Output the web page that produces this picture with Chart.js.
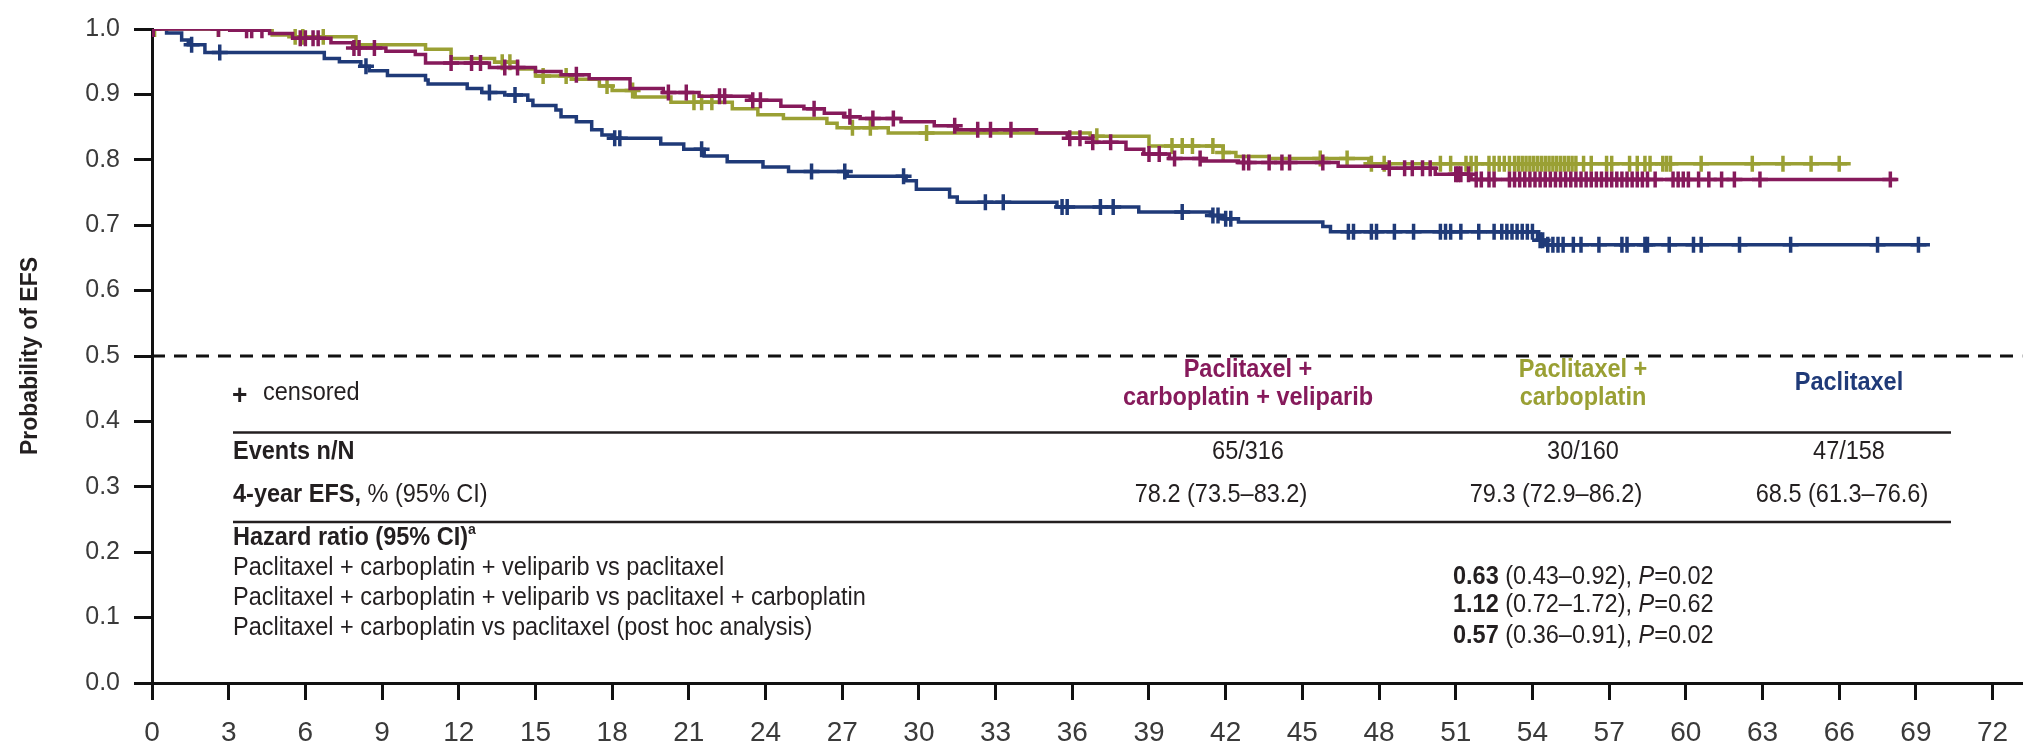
<!DOCTYPE html>
<html>
<head>
<meta charset="utf-8">
<script src="https://cdn.jsdelivr.net/npm/chart.js@4.4.1/dist/chart.umd.min.js"></script>
<style>
  html, body { margin: 0; padding: 0; background: #fff; }
  canvas { display: block; }
</style>
</head>
<body>
<canvas id="km" width="2034" height="750"></canvas>
<script>
// ---- data (months, probability of EFS) ----
const xTicks = [0, 3, 6, 9, 12, 15, 18, 21, 24, 27, 30, 33, 36, 39, 42, 45, 48, 51, 54, 57, 60, 63, 66, 69, 72];
const yTicks = [0, 0.1, 0.2, 0.3, 0.4, 0.5, 0.6, 0.7, 0.8, 0.9, 1.0];

// paclitaxel + carboplatin + veliparib
const pcvTimes = [0, 3.04, 4.6, 5.5, 7.0, 7.85, 9.15, 10.3, 10.7, 13.2, 15.0, 16.0, 17.1, 18.7, 20.0, 21.4, 23.4, 24.6, 25.5, 26.3, 27.1, 27.7, 29.3, 30.6, 31.5, 34.6, 35.8, 36.8, 38.1, 38.8, 39.8, 41.1, 42.5, 46.4, 48.4, 50.2, 51.6];
const pcvSurv = [1.0, 0.998, 0.993, 0.986, 0.979, 0.971, 0.966, 0.961, 0.948, 0.941, 0.935, 0.930, 0.924, 0.909, 0.903, 0.897, 0.891, 0.882, 0.878, 0.871, 0.866, 0.863, 0.858, 0.852, 0.846, 0.841, 0.833, 0.827, 0.816, 0.809, 0.802, 0.798, 0.796, 0.790, 0.787, 0.778, 0.770];
const pcvEnd = 68.25;
const pcvCensor = [0.05, 2.6, 3.7, 3.9, 4.3, 5.8, 6.0, 6.3, 6.5, 7.9, 8.1, 8.7, 11.7, 12.5, 12.85, 13.8, 14.3, 16.6, 20.2, 20.9, 22.2, 22.4, 23.5, 23.8, 25.9, 27.3, 28.2, 29.0, 31.4, 32.3, 32.8, 33.6, 35.9, 36.3, 36.8, 37.5, 39.0, 39.4, 40.0, 41.0, 42.7, 42.9, 43.7, 44.2, 44.5, 45.8, 48.4, 49.0, 49.3, 49.7, 50.0, 51.0, 51.1, 51.2, 51.5, 51.8, 52.0, 52.3, 52.5, 53.1, 53.3, 53.5, 53.7, 53.9, 54.1, 54.3, 54.5, 54.7, 54.9, 55.1, 55.3, 55.5, 55.7, 55.9, 56.1, 56.3, 56.5, 56.7, 56.9, 57.1, 57.3, 57.5, 57.7, 57.9, 58.1, 58.3, 58.5, 58.8, 59.5, 59.7, 59.9, 60.1, 60.5, 60.9, 61.4, 61.9, 62.9, 68.0];

// paclitaxel + carboplatin
const pcTimes = [0, 3.04, 4.7, 5.5, 7.98, 10.7, 11.7, 13.4, 14.3, 15.0, 16.4, 17.5, 18.0, 18.9, 20.3, 22.7, 23.7, 24.7, 26.4, 26.8, 28.8, 36.7, 39.0, 41.9, 42.4, 43.7, 47.6];
const pcSurv = [1.0, 0.998, 0.991, 0.988, 0.976, 0.969, 0.955, 0.949, 0.939, 0.928, 0.923, 0.913, 0.906, 0.896, 0.888, 0.878, 0.869, 0.863, 0.856, 0.849, 0.841, 0.836, 0.821, 0.811, 0.805, 0.802, 0.794];
const pcEnd = 66.45;
const pcCensor = [0.1, 2.6, 5.6, 5.9, 6.7, 13.7, 14.0, 15.3, 16.2, 17.8, 18.8, 21.2, 21.5, 21.9, 27.4, 28.1, 30.3, 36.96, 39.9, 40.3, 40.7, 41.5, 41.9, 45.7, 46.75, 47.7, 48.2, 50.4, 50.8, 51.4, 51.6, 51.8, 52.3, 52.5, 52.7, 52.9, 53.1, 53.3, 53.45, 53.6, 53.75, 53.9, 54.05, 54.2, 54.35, 54.5, 54.65, 54.8, 54.95, 55.1, 55.25, 55.4, 55.55, 55.7, 56.0, 56.3, 56.9, 57.1, 57.8, 58.1, 58.4, 58.6, 59.1, 59.25, 59.4, 60.6, 62.6, 63.8, 64.9, 66.0];

// paclitaxel
const pTimes = [0, 0.57, 1.16, 1.42, 2.07, 6.74, 7.33, 8.17, 8.5, 9.21, 10.7, 10.8, 12.33, 12.9, 13.8, 14.7, 14.9, 15.8, 16.0, 16.6, 17.2, 17.6, 18.0, 19.9, 20.8, 21.6, 22.5, 23.9, 24.9, 27.2, 29.5, 29.9, 31.2, 31.5, 35.4, 38.6, 41.4, 41.9, 42.5, 45.8, 46.1, 54.2, 54.5];
const pSurv = [1.0, 0.994, 0.983, 0.976, 0.964, 0.955, 0.950, 0.943, 0.936, 0.929, 0.922, 0.916, 0.909, 0.903, 0.899, 0.891, 0.883, 0.876, 0.866, 0.858, 0.846, 0.838, 0.833, 0.824, 0.816, 0.806, 0.797, 0.789, 0.782, 0.775, 0.768, 0.755, 0.743, 0.735, 0.728, 0.720, 0.715, 0.710, 0.705, 0.698, 0.690, 0.677, 0.670];
const pEnd = 69.55;
const pCensor = [1.55, 2.65, 8.37, 13.2, 14.2, 18.1, 18.3, 21.5, 25.8, 27.1, 29.4, 32.6, 33.3, 35.6, 35.8, 37.1, 37.6, 40.3, 41.5, 41.7, 42.0, 42.2, 46.8, 47.0, 47.7, 47.9, 48.6, 49.35, 50.4, 50.6, 50.8, 51.2, 51.9, 52.5, 52.8, 53.0, 53.2, 53.4, 53.6, 53.8, 54.0, 54.3, 54.4, 54.6, 54.8, 55.0, 55.2, 55.6, 55.9, 56.6, 57.5, 57.7, 58.4, 58.5, 59.35, 60.3, 60.6, 62.1, 64.1, 67.5, 69.1];

const armNames = [['Paclitaxel +', 'carboplatin + veliparib'], ['Paclitaxel +', 'carboplatin'], ['Paclitaxel']];
const armColors = ['#861a5b', '#9aa034', '#1f3a78'];
const eventsN = ['65/316', '30/160', '47/158'];
const efs4 = ['78.2 (73.5\u201383.2)', '79.3 (72.9\u201386.2)', '68.5 (61.3\u201376.6)'];
const hrLabels = [
  'Paclitaxel + carboplatin + veliparib vs paclitaxel',
  'Paclitaxel + carboplatin + veliparib vs paclitaxel + carboplatin',
  'Paclitaxel + carboplatin vs paclitaxel (post hoc analysis)'
];
const hrValues = ['0.63', '1.12', '0.57'];
const hrCI = ['(0.43\u20130.92)', '(0.72\u20131.72)', '(0.36\u20130.91)'];
const hrP = ['0.02', '0.62', '0.02'];

const X_MAX = 73.17;

function survAt(times, surv, t) {
  let s = surv[0];
  for (let i = 0; i < times.length; i++) {
    if (times[i] <= t) s = surv[i];
  }
  return s;
}

function curve(times, surv, end) {
  const pts = times.map((t, i) => ({ x: t, y: surv[i] }));
  pts.push({ x: end, y: surv[surv.length - 1] });
  return pts;
}

function marks(times, surv, cens) {
  return cens.map(t => ({ x: t, y: survAt(times, surv, t) }));
}

function lineSet(data, color) {
  return { data, borderColor: color, borderWidth: 3.5, stepped: 'before', pointRadius: 0, fill: false };
}
function censorSet(data, color) {
  return { data, showLine: false, borderColor: color, backgroundColor: color, pointStyle: 'cross', pointRadius: 8, pointBorderWidth: 3.5, pointHoverRadius: 8 };
}

const SANS = "'Liberation Sans', Arial, Helvetica, sans-serif";
const TEXT = '#231f20';
const SX = 0.94; // the source lettering is slightly condensed

// draw a line of mixed-style text runs
function runs(ctx, parts, x, y, align) {
  let total = 0;
  parts.forEach(p => {
    ctx.font = (p.style || '') + ' ' + (p.weight || 'normal') + ' ' + (p.size || 25) + 'px ' + SANS;
    p.w = ctx.measureText(p.text).width;
    total += p.w;
  });
  let x0 = 0;
  if (align === 'center') x0 = -total / 2;
  ctx.save();
  ctx.translate(x, y);
  ctx.scale(SX, 1);
  parts.forEach(p => {
    ctx.font = (p.style || '') + ' ' + (p.weight || 'normal') + ' ' + (p.size || 25) + 'px ' + SANS;
    ctx.fillStyle = p.color || TEXT;
    ctx.fillText(p.text, x0, p.dy || 0);
    x0 += p.w;
  });
  ctx.restore();
}

const tablePlugin = {
  id: 'efsTable',
  afterDraw(chart) {
    const ctx = chart.ctx;
    ctx.save();
    ctx.textBaseline = 'middle';
    ctx.textAlign = 'left';

    runs(ctx, [{ text: '+', weight: 'bold', size: 28 }], 232, 396, 'left');
    runs(ctx, [{ text: 'censored' }], 263, 393, 'left');

    const colX = [1248, 1583, 1849];
    runs(ctx, [{ text: armNames[0][0], weight: 'bold', color: armColors[0] }], colX[0], 370, 'center');
    runs(ctx, [{ text: armNames[0][1], weight: 'bold', color: armColors[0] }], colX[0], 398, 'center');
    runs(ctx, [{ text: armNames[1][0], weight: 'bold', color: armColors[1] }], colX[1], 370, 'center');
    runs(ctx, [{ text: armNames[1][1], weight: 'bold', color: armColors[1] }], colX[1], 398, 'center');
    runs(ctx, [{ text: armNames[2][0], weight: 'bold', color: armColors[2] }], colX[2], 383, 'center');

    ctx.strokeStyle = '#231f20';
    ctx.lineWidth = 2.5;
    [432.5, 522].forEach(y => {
      ctx.beginPath();
      ctx.moveTo(233, y);
      ctx.lineTo(1951, y);
      ctx.stroke();
    });

    runs(ctx, [{ text: 'Events n/N', weight: 'bold' }], 233, 452, 'left');
    runs(ctx, [{ text: '4-year EFS,', weight: 'bold' }, { text: ' % (95% CI)' }], 233, 495, 'left');
    const efsX = [1221, 1556, 1842];
    eventsN.forEach((t, i) => runs(ctx, [{ text: t }], colX[i], 452, 'center'));
    efs4.forEach((t, i) => runs(ctx, [{ text: t }], efsX[i], 495, 'center'));

    runs(ctx, [{ text: 'Hazard ratio (95% CI)', weight: 'bold' }, { text: 'a', weight: 'bold', size: 15, dy: -8 }], 233, 538, 'left');
    const rowY = [568, 598, 628];
    const valY = [577, 605, 636];
    hrLabels.forEach((t, i) => runs(ctx, [{ text: t }], 233, rowY[i], 'left'));
    hrValues.forEach((v, i) => runs(ctx, [
      { text: v, weight: 'bold' },
      { text: ' ' + hrCI[i] + ', ' },
      { text: 'P', style: 'italic' },
      { text: '=' + hrP[i] }
    ], 1453, valY[i], 'left'));

    ctx.restore();
  }
};

const ctx = document.getElementById('km').getContext('2d');
new Chart(ctx, {
  type: 'line',
  data: {
    datasets: [
      lineSet(curve(pcvTimes, pcvSurv, pcvEnd), armColors[0]),
      censorSet(marks(pcvTimes, pcvSurv, pcvCensor), armColors[0]),
      lineSet(curve(pcTimes, pcSurv, pcEnd), armColors[1]),
      censorSet(marks(pcTimes, pcSurv, pcCensor), armColors[1]),
      lineSet(curve(pTimes, pSurv, pEnd), armColors[2]),
      censorSet(marks(pTimes, pSurv, pCensor), armColors[2]),
      {
        data: [{ x: 0, y: 0.5 }, { x: X_MAX, y: 0.5 }],
        borderColor: '#111', borderWidth: 3, borderDash: [13, 9], pointRadius: 0, fill: false
      }
    ]
  },
  options: {
    responsive: false,
    animation: false,
    events: [],
    layout: { padding: { top: 19, right: 4, left: 0, bottom: 0 } },
    plugins: { legend: { display: false }, tooltip: { enabled: false } },
    scales: {
      x: {
        type: 'linear',
        min: 0,
        max: X_MAX,
        afterBuildTicks: s => { s.ticks = xTicks.map(v => ({ value: v })); },
        afterFit: s => { s.height = 67; },
        grid: { drawOnChartArea: false, tickLength: 17, tickWidth: 3, tickColor: '#111' },
        border: { color: '#111', width: 3 },
        ticks: {
          autoSkip: false, maxRotation: 0, padding: 16, color: '#3a3a3a',
          font: { family: SANS, size: 28 },
          callback: v => String(v)
        }
      },
      y: {
        min: 0,
        max: 1,
        afterBuildTicks: s => { s.ticks = yTicks.map(v => ({ value: v })); },
        afterFit: s => { s.width = 152; },
        grid: { drawOnChartArea: false, tickLength: 18, tickWidth: 3, tickColor: '#111' },
        border: { color: '#111', width: 3 },
        ticks: {
          padding: 14, color: '#3a3a3a',
          font: { family: SANS, size: 25 },
          callback: v => v.toFixed(1)
        },
        title: {
          display: true,
          text: 'Probability of EFS',
          color: '#231f20',
          font: { family: SANS, size: 23, weight: 'bold' },
          padding: { top: 17, bottom: 0 }
        }
      }
    }
  },
  plugins: [tablePlugin]
});
</script>
</body>
</html>
